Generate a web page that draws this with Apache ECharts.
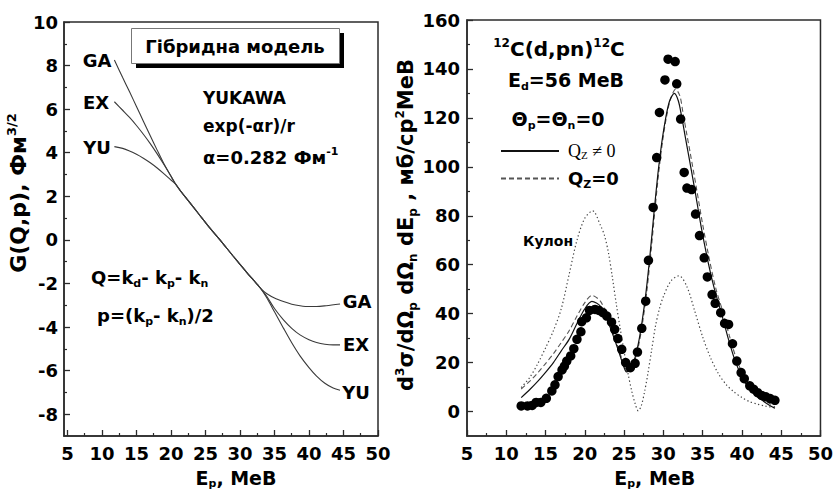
<!DOCTYPE html>
<html>
<head>
<meta charset="utf-8">
<script src="https://cdn.jsdelivr.net/npm/echarts@6/dist/echarts.min.js"></script>
<style>
  html, body { margin: 0; padding: 0; background: #fff; }
  #chart { width: 836px; height: 494px; }
</style>
</head>
<body>
<div id="chart"></div>
<script>
// ---------- Left panel: G(Q,p) for three potentials ----------
const gaX = [11.8, 13, 14, 15, 16, 17, 18, 19, 20, 20.6, 21.5, 22.5, 24, 25.5, 27.1, 28, 29, 30, 31, 32, 32.6, 33.3, 33.9, 35, 36.3, 37.5, 38.7, 40, 41.1, 42.5, 44.5];
const gaY = [8.26, 7.45, 6.8, 6.12, 5.45, 4.78, 4.12, 3.48, 2.92, 2.6, 2.2, 1.8, 1.2, 0.6, 0, -0.35, -0.74, -1.12, -1.5, -1.86, -2.08, -2.32, -2.47, -2.67, -2.83, -2.95, -3.02, -3.06, -3.06, -3.02, -2.94];

const exX = [11.8, 13, 14, 15, 16, 17, 18, 19, 20, 20.6, 21.5, 22.5, 24, 25.5, 27.1, 28, 29, 30, 31, 32, 32.6, 33.3, 33.9, 35, 36.3, 37.5, 38.7, 40, 41.1, 42.3, 43.5, 44.5];
const exY = [6.34, 5.95, 5.62, 5.25, 4.85, 4.42, 3.95, 3.45, 2.93, 2.6, 2.2, 1.8, 1.2, 0.6, 0, -0.35, -0.74, -1.12, -1.5, -1.86, -2.08, -2.35, -2.6, -3.15, -3.67, -4.06, -4.36, -4.58, -4.71, -4.79, -4.82, -4.82];

const yuX = [11.8, 13, 14, 15, 16, 17, 18, 19, 20, 20.6, 21.5, 22.5, 24, 25.5, 27.1, 28, 29, 30, 31, 32, 32.6, 33.3, 33.9, 35, 36.3, 37.5, 38.7, 40, 41.1, 42.3, 43.5, 44.5];
const yuY = [4.28, 4.2, 4.08, 3.93, 3.75, 3.54, 3.3, 3.03, 2.75, 2.58, 2.2, 1.8, 1.2, 0.6, 0, -0.35, -0.74, -1.12, -1.5, -1.86, -2.08, -2.36, -2.67, -3.3, -4.05, -4.72, -5.32, -5.86, -6.25, -6.58, -6.8, -6.9];

// ---------- Right panel: 12C(d,pn)12C cross section ----------
const expX = [11.9, 12.7, 13.3, 13.8, 14.4, 15.1, 15.8, 16.2, 16.6, 17.1, 17.4, 17.7, 18.2, 18.6, 19.0, 19.5, 19.6, 20.2, 20.6, 21.3, 21.8, 22.3, 22.8, 23.4, 23.8, 24.2, 24.7, 25.2, 25.8, 26.4, 26.7, 27.25, 27.75, 28.1, 28.7, 29.15, 29.5, 30.2, 30.6, 31.5, 31.7, 32.2, 32.65, 33.0, 33.6, 34.1, 34.6, 35.2, 35.6, 36.2, 36.6, 37.3, 37.8, 38.3, 38.8, 39.35, 39.9, 40.3, 41.0, 41.5, 42.0, 42.5, 43.05, 43.6, 44.2];
const expY = [2.3, 2.3, 2.5, 3.7, 3.7, 5.4, 8.4, 10.9, 14.3, 17.0, 18.6, 20.6, 22.7, 25.7, 29.5, 32.6, 36.7, 38.3, 41.3, 41.7, 41.3, 40.4, 39.0, 36.5, 33.6, 29.8, 25.4, 20.0, 17.9, 19.7, 24.3, 34.0, 45.1, 61.8, 83.4, 103.8, 122.2, 135.5, 144.0, 143.0, 133.9, 119.5, 97.7, 91.3, 90.7, 80.7, 71.9, 62.8, 55.0, 47.8, 44.2, 40.4, 36.0, 35.6, 27.7, 20.6, 15.9, 13.4, 10.5, 9.1, 7.7, 6.6, 6.0, 5.3, 4.6];

// calculation with Q_z != 0 (solid)
const qzX = [11.9, 13, 14, 15, 16, 17, 18, 19, 20, 20.9, 22, 23, 24, 25, 25.3, 25.8, 26.3, 26.8, 27.3, 27.8, 28.3, 28.8, 29.3, 29.8, 30.3, 30.8, 31.4, 31.9, 32.3, 32.8, 33.2, 34.0, 34.8, 35.7, 36.5, 37.4, 38.2, 39.05, 39.9, 40.7, 41.6, 42.4, 43.3, 44.2];
const qzY = [5.7, 9, 12.3, 16, 20, 24.8, 29.5, 36, 42, 45, 43, 36.3, 27.5, 18, 16.2, 17.2, 21, 27.5, 37, 49, 64, 81, 97, 110, 120, 127, 130, 127, 121, 112, 105, 90.7, 75.7, 61, 50, 40, 30.5, 21.5, 14.8, 10.4, 7, 5, 3, 1.3];

// calculation with Q_z = 0 (dashed)
const q0X = [11.9, 13, 14, 15, 16, 17, 18, 19, 20, 20.9, 22, 23, 24, 25, 25.4, 25.9, 26.4, 26.9, 27.4, 27.9, 28.4, 28.9, 29.4, 29.9, 30.4, 30.9, 31.55, 32.1, 32.5, 33, 33.4, 34.2, 35, 35.9, 36.7, 37.6, 38.4, 39.25, 40.1, 40.9, 41.8, 42.6, 43.5, 44.2];
const q0Y = [9.2, 12.4, 15.8, 19.6, 23.6, 28.2, 33, 39, 44.5, 47.5, 45, 37.8, 28.5, 19, 16.6, 17.4, 21.2, 27.8, 37.3, 49.3, 64.5, 81.5, 97.5, 110.5, 120.5, 127.5, 131.7, 129, 122, 113, 106, 91.5, 76.5, 61.5, 50, 40.5, 31, 22, 15.3, 11, 7.6, 5.4, 3.4, 1.9];

// Coulomb-only calculation (dotted)
const coulX = [11.9, 13, 14, 15, 16, 17, 18, 19, 20, 21, 22, 22.5, 23, 23.5, 24, 24.5, 25, 25.5, 26, 26.4, 26.8, 27.2, 27.6, 28, 28.5, 29, 29.5, 30, 31, 32, 33, 34, 35, 36, 37, 38, 39, 40, 41, 42, 43, 44.2];
const coulY = [9.8, 14, 19.5, 26, 33, 42, 56, 70, 79, 82, 76, 72, 65, 55, 44, 34, 24.5, 15.5, 8, 3.3, 0.3, 2.5, 8, 15, 25, 35, 42, 47, 53.5, 55.5, 51, 41, 30.5, 22, 15.5, 11, 8, 5.7, 4, 3, 2.2, 1.6];

// ---------- Tick values ----------
const leftXLabels = [5, 10, 15, 20, 25, 30, 35, 40, 45, 50];
const leftXMinor = [7.5, 12.5, 17.5, 22.5, 27.5, 32.5, 37.5, 42.5, 47.5];
const leftYLabels = [-8, -6, -4, -2, 0, 2, 4, 6, 8, 10];
const leftYMinor = [-7, -5, -3, -1, 1, 3, 5, 7, 9];
const rightYLabels = [0, 20, 40, 60, 80, 100, 120, 140, 160];
const rightYMinor = [10, 30, 50, 70, 90, 110, 130, 150];

const zip = (xs, ys) => xs.map((x, i) => [x, ys[i]]);

const F = 'DejaVu Sans';
const INK = '#2b2b2b';
function rs(size, pad, family, weight) {
  const s = { fontFamily: family || F, fontWeight: weight || 'bold', fontSize: size, color: '#000' };
  if (pad) s.padding = pad;
  return s;
}
const SERIF = 'Liberation Serif';
const rich = {
  r: rs(20), rsub: rs(12, [13, 0, 0, 0]), rsup: rs(12, [0, 0, 13, 0]),
  h: rs(19), hsub: rs(11, [12, 0, 0, 0]),
  yl: rs(22), ylsup: rs(13, [0, 0, 14, 0]),
  yr: rs(21), yrsub: rs(12, [13, 0, 0, 0]), yrsup: rs(12, [0, 0, 13, 0]),
  m: rs(18), msub: rs(11, [12, 0, 0, 0]), msup: rs(11, [0, 0, 12, 0]),
  lg: rs(18, [0, 0, 0, 4]), lgsub: rs(11, [12, 0, 0, 0]), lgb: rs(18),
  ser: rs(18, [0, 0, 0, 4], SERIF, 'normal'), sersub: rs(11, [8, 0, 0, 0], SERIF, 'normal'), ser2: rs(18, null, SERIF, 'normal')
};

const tickLabel = { color: '#000', fontFamily: F, fontWeight: 'bold', fontSize: 18 };
const lineCol = { color: INK, width: 1.5 };

function majorAxis(extra) {
  return Object.assign({
    type: 'value',
    axisLine: { show: true, onZero: false, lineStyle: lineCol },
    axisTick: { show: true, inside: true, length: 6, lineStyle: { color: INK, width: 1.3 } },
    splitLine: { show: false },
    nameTextStyle: { rich: rich }
  }, extra);
}
function minorAxis(extra, ticks) {
  return Object.assign({
    type: 'value',
    axisLine: { show: false, onZero: false },
    axisTick: { show: true, inside: true, length: 3, customValues: ticks, lineStyle: { color: INK, width: 1.2 } },
    axisLabel: { show: false },
    splitLine: { show: false }
  }, extra);
}
const bold = (size) => 'bold ' + size + 'px "DejaVu Sans"';

const chart = echarts.init(document.getElementById('chart'), null, { renderer: 'svg' });

const option = {
  animation: false,
  backgroundColor: '#fff',
  grid: [
    { left: 64, top: 22, width: 314, height: 414, show: true, borderColor: INK, borderWidth: 1.5, backgroundColor: 'transparent' },
    { left: 467, top: 20, width: 356, height: 416, show: true, borderColor: INK, borderWidth: 1.5, backgroundColor: 'transparent' }
  ],
  xAxis: [
    majorAxis({
      gridIndex: 0, min: 4.5, max: 50,
      axisTick: { show: true, inside: true, length: 6, customValues: leftXLabels, lineStyle: { color: INK, width: 1.3 } },
      axisLabel: Object.assign({ customValues: leftXLabels, margin: 8 }, tickLabel),
      name: '{h|E}{hsub|p}{h|, MeB}', nameLocation: 'middle', nameGap: 30,
      nameTextStyle: { rich: rich, padding: [0, 0, 0, 30] }
    }),
    minorAxis({ gridIndex: 0, min: 4.5, max: 50, position: 'bottom' }, leftXMinor),
    majorAxis({
      gridIndex: 1, min: 5, max: 50, interval: 5,
      minorTick: { show: true, splitNumber: 2, length: 3, lineStyle: { color: INK, width: 1.2 } },
      axisLabel: Object.assign({ margin: 8 }, tickLabel),
      name: '{h|E}{hsub|p}{h|, MeB}', nameLocation: 'middle', nameGap: 30,
      nameTextStyle: { rich: rich, padding: [0, 0, 0, 22] }
    })
  ],
  yAxis: [
    majorAxis({
      gridIndex: 0, min: -9, max: 10,
      axisTick: { show: true, inside: true, length: 6, customValues: leftYLabels, lineStyle: { color: INK, width: 1.3 } },
      axisLabel: Object.assign({ customValues: leftYLabels, margin: 6 }, tickLabel),
      name: '{yl|G(Q,p), Фм}{ylsup|3/2}', nameLocation: 'middle', nameGap: 26,
      nameTextStyle: { rich: rich, padding: [0, 0, 0, 72] }
    }),
    minorAxis({ gridIndex: 0, min: -9, max: 10, position: 'left' }, leftYMinor),
    majorAxis({
      gridIndex: 1, min: -10, max: 160,
      axisTick: { show: true, inside: true, length: 6, customValues: rightYLabels, lineStyle: { color: INK, width: 1.3 } },
      axisLabel: Object.assign({ customValues: rightYLabels, margin: 7 }, tickLabel),
      name: '{yr|d}{yrsup|3}{yr|σ/dΩ}{yrsub|p}{yr| dΩ}{yrsub|n}{yr| dE}{yrsub|p}{yr| , мб/ср}{yrsup|2}{yr|MeB}',
      nameLocation: 'middle', nameGap: 34,
      nameTextStyle: { rich: rich, padding: [0, 0, 0, 6] }
    }),
    minorAxis({ gridIndex: 1, min: -10, max: 160, position: 'left' }, rightYMinor)
  ],
  legend: {
    left: 495, top: 137, orient: 'vertical',
    itemWidth: 58, itemHeight: 14, itemGap: 9,
    data: ['Qz≠0', 'Qz=0'],
    itemStyle: { color: 'rgba(0,0,0,0)', borderWidth: 0, borderColor: 'rgba(0,0,0,0)' },
    formatter: function (name) {
      return name === 'Qz≠0' ? '{ser|Q}{sersub|Z}{ser2| ≠ 0}' : '{lg|Q}{lgsub|Z}{lgb|=0}';
    },
    textStyle: { rich: rich }
  },
  graphic: [
    // title box with drop shadow
    { type: 'rect', shape: { x: 136, y: 33, width: 208, height: 35 }, style: { fill: '#000' }, z: 10 },
    { type: 'rect', shape: { x: 131.5, y: 28.5, width: 208, height: 35 }, style: { fill: '#fff', stroke: '#777', lineWidth: 1 }, z: 11 },
    { type: 'text', x: 235, y: 46, z: 12, style: { text: 'Гібридна модель', align: 'center', verticalAlign: 'middle', font: bold(18), fill: '#000' } },
    // potential description
    { type: 'text', x: 203, y: 98, style: { text: 'YUKAWA', verticalAlign: 'middle', font: bold(17), fill: '#000' } },
    { type: 'text', x: 203, y: 126, style: { text: 'exp(-αr)/r', verticalAlign: 'middle', font: bold(17), fill: '#000' } },
    { type: 'text', x: 203, y: 157, style: { text: '{m|α=0.282 Фм}{msup|-1}', rich: rich, verticalAlign: 'middle' } },
    // curve names
    { type: 'text', x: 97, y: 60, style: { text: 'GA', align: 'center', verticalAlign: 'middle', font: bold(18), fill: '#000' } },
    { type: 'text', x: 96, y: 102, style: { text: 'EX', align: 'center', verticalAlign: 'middle', font: bold(18), fill: '#000' } },
    { type: 'text', x: 97, y: 147, style: { text: 'YU', align: 'center', verticalAlign: 'middle', font: bold(18), fill: '#000' } },
    { type: 'text', x: 357, y: 301, style: { text: 'GA', align: 'center', verticalAlign: 'middle', font: bold(18), fill: '#000' } },
    { type: 'text', x: 356, y: 344, style: { text: 'EX', align: 'center', verticalAlign: 'middle', font: bold(18), fill: '#000' } },
    { type: 'text', x: 356, y: 392, style: { text: 'YU', align: 'center', verticalAlign: 'middle', font: bold(18), fill: '#000' } },
    // momentum definitions
    { type: 'text', x: 91, y: 277, style: { text: '{m|Q=k}{msub|d}{m|- k}{msub|p}{m|- k}{msub|n}', rich: rich, verticalAlign: 'middle' } },
    { type: 'text', x: 97, y: 315, style: { text: '{m|p=(k}{msub|p}{m|- k}{msub|n}{m|)/2}', rich: rich, verticalAlign: 'middle' } },
    // reaction description
    { type: 'text', x: 559, y: 49, style: { text: '{rsup|12}{r|C(d,pn)}{rsup|12}{r|C}', rich: rich, align: 'center', verticalAlign: 'middle' } },
    { type: 'text', x: 566, y: 80, style: { text: '{h|E}{hsub|d}{h|=56 MeB}', rich: rich, align: 'center', verticalAlign: 'middle' } },
    { type: 'text', x: 558, y: 119, style: { text: '{h|Θ}{hsub|p}{h|=Θ}{hsub|n}{h|=0}', rich: rich, align: 'center', verticalAlign: 'middle' } },
    { type: 'text', x: 548, y: 241, style: { text: 'Кулон', align: 'center', verticalAlign: 'middle', font: bold(14), fill: '#000' } }
  ],
  series: [
    { name: 'GA', type: 'line', xAxisIndex: 0, yAxisIndex: 0, data: zip(gaX, gaY), smooth: 0.3, symbol: 'none', lineStyle: { color: '#3a3a3a', width: 1.1 } },
    { name: 'EX', type: 'line', xAxisIndex: 0, yAxisIndex: 0, data: zip(exX, exY), smooth: 0.3, symbol: 'none', lineStyle: { color: '#3a3a3a', width: 1.1 } },
    { name: 'YU', type: 'line', xAxisIndex: 0, yAxisIndex: 0, data: zip(yuX, yuY), smooth: 0.3, symbol: 'none', lineStyle: { color: '#3a3a3a', width: 1.1 } },
    { name: 'Кулон', type: 'line', xAxisIndex: 2, yAxisIndex: 2, data: zip(coulX, coulY), smooth: 0.3, symbol: 'none', lineStyle: { color: '#444', width: 1.2, type: [1.3, 2.5] } },
    { name: 'Qz=0', type: 'line', xAxisIndex: 2, yAxisIndex: 2, data: zip(q0X, q0Y), smooth: 0.3, symbol: 'none', lineStyle: { color: '#555', width: 1.1, type: [5, 3] } },
    { name: 'Qz≠0', type: 'line', xAxisIndex: 2, yAxisIndex: 2, data: zip(qzX, qzY), smooth: 0.3, symbol: 'none', lineStyle: { color: '#111', width: 1.2 } },
    { name: 'exp', type: 'scatter', xAxisIndex: 2, yAxisIndex: 2, data: zip(expX, expY), symbol: 'circle', symbolSize: 9.5, itemStyle: { color: '#000', opacity: 1 }, z: 5 }
  ]
};

chart.setOption(option);
</script>
</body>
</html>
